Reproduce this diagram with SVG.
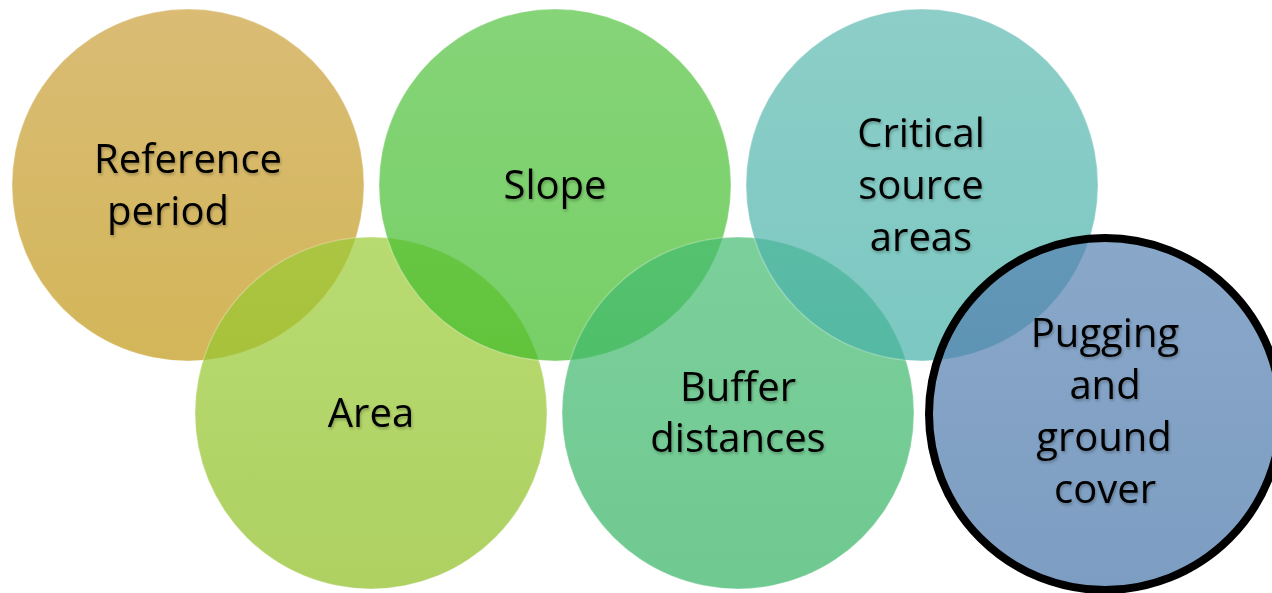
<svg xmlns="http://www.w3.org/2000/svg" width="1272" height="593" viewBox="0 0 1272 593">
<defs>
<linearGradient id="gRef" x1="0" y1="0" x2="0" y2="1"><stop offset="0" stop-color="#ca9f3a"/><stop offset="1" stop-color="#c09712"/></linearGradient>
<linearGradient id="gArea" x1="0" y1="0" x2="0" y2="1"><stop offset="0" stop-color="#9acb35"/><stop offset="1" stop-color="#8cbd1f"/></linearGradient>
<linearGradient id="gSlope" x1="0" y1="0" x2="0" y2="1"><stop offset="0" stop-color="#52c23f"/><stop offset="1" stop-color="#3ebb26"/></linearGradient>
<linearGradient id="gBuf" x1="0" y1="0" x2="0" y2="1"><stop offset="0" stop-color="#44bb70"/><stop offset="1" stop-color="#33b262"/></linearGradient>
<linearGradient id="gCrit" x1="0" y1="0" x2="0" y2="1"><stop offset="0" stop-color="#5cb9b0"/><stop offset="1" stop-color="#45b0a8"/></linearGradient>
<linearGradient id="gPug" x1="0" y1="0" x2="0" y2="1"><stop offset="0" stop-color="#5782b2"/><stop offset="1" stop-color="#4574a8"/></linearGradient>
<filter id="ts" x="-10%" y="-20%" width="120%" height="150%">
<feGaussianBlur in="SourceAlpha" stdDeviation="1.6"/>
<feOffset dx="1" dy="1.5" result="b"/>
<feComponentTransfer><feFuncA type="linear" slope="0.28"/></feComponentTransfer>
<feMerge><feMergeNode/><feMergeNode in="SourceGraphic"/></feMerge>
</filter>
<style>
.c{fill-opacity:0.7;stroke:#ffffff;stroke-opacity:0.25;stroke-width:1.5}
.t{font-family:"Open Sans","Liberation Sans",sans-serif;font-size:40px;fill:#000000;text-anchor:middle;filter:url(#ts)}
</style>
</defs>
<rect width="1272" height="593" fill="#ffffff"/>
<g id="node-reference-period">
<circle class="c" cx="188" cy="185" r="176" fill="url(#gRef)"/>
<text class="t" x="188" y="173">Reference</text>
<text class="t" x="168" y="225">period</text>
</g>
<g id="node-area">
<circle class="c" cx="371" cy="413" r="176" fill="url(#gArea)"/>
<text class="t" x="371" y="427">Area</text>
</g>
<g id="node-slope">
<circle class="c" cx="555" cy="185" r="176" fill="url(#gSlope)"/>
<text class="t" x="555" y="199">Slope</text>
</g>
<g id="node-buffer-distances">
<circle class="c" cx="738" cy="413" r="176" fill="url(#gBuf)"/>
<text class="t" x="738" y="401">Buffer</text>
<text class="t" x="738" y="452">distances</text>
</g>
<g id="node-critical-source-areas">
<circle class="c" cx="922" cy="185" r="176" fill="url(#gCrit)"/>
<text class="t" x="921" y="147">Critical</text>
<text class="t" x="921" y="199">source</text>
<text class="t" x="921" y="251">areas</text>
</g>
<g id="node-pugging">
<circle cx="1105" cy="414" r="176" fill="url(#gPug)" fill-opacity="0.7" stroke="#000000" stroke-width="8"/>
<text class="t" x="1105" y="347">Pugging</text>
<text class="t" x="1105" y="399">and</text>
<text class="t" x="1104" y="451">ground</text>
<text class="t" x="1105" y="503">cover</text>
</g>
<g id="connectors"/>
</svg>
